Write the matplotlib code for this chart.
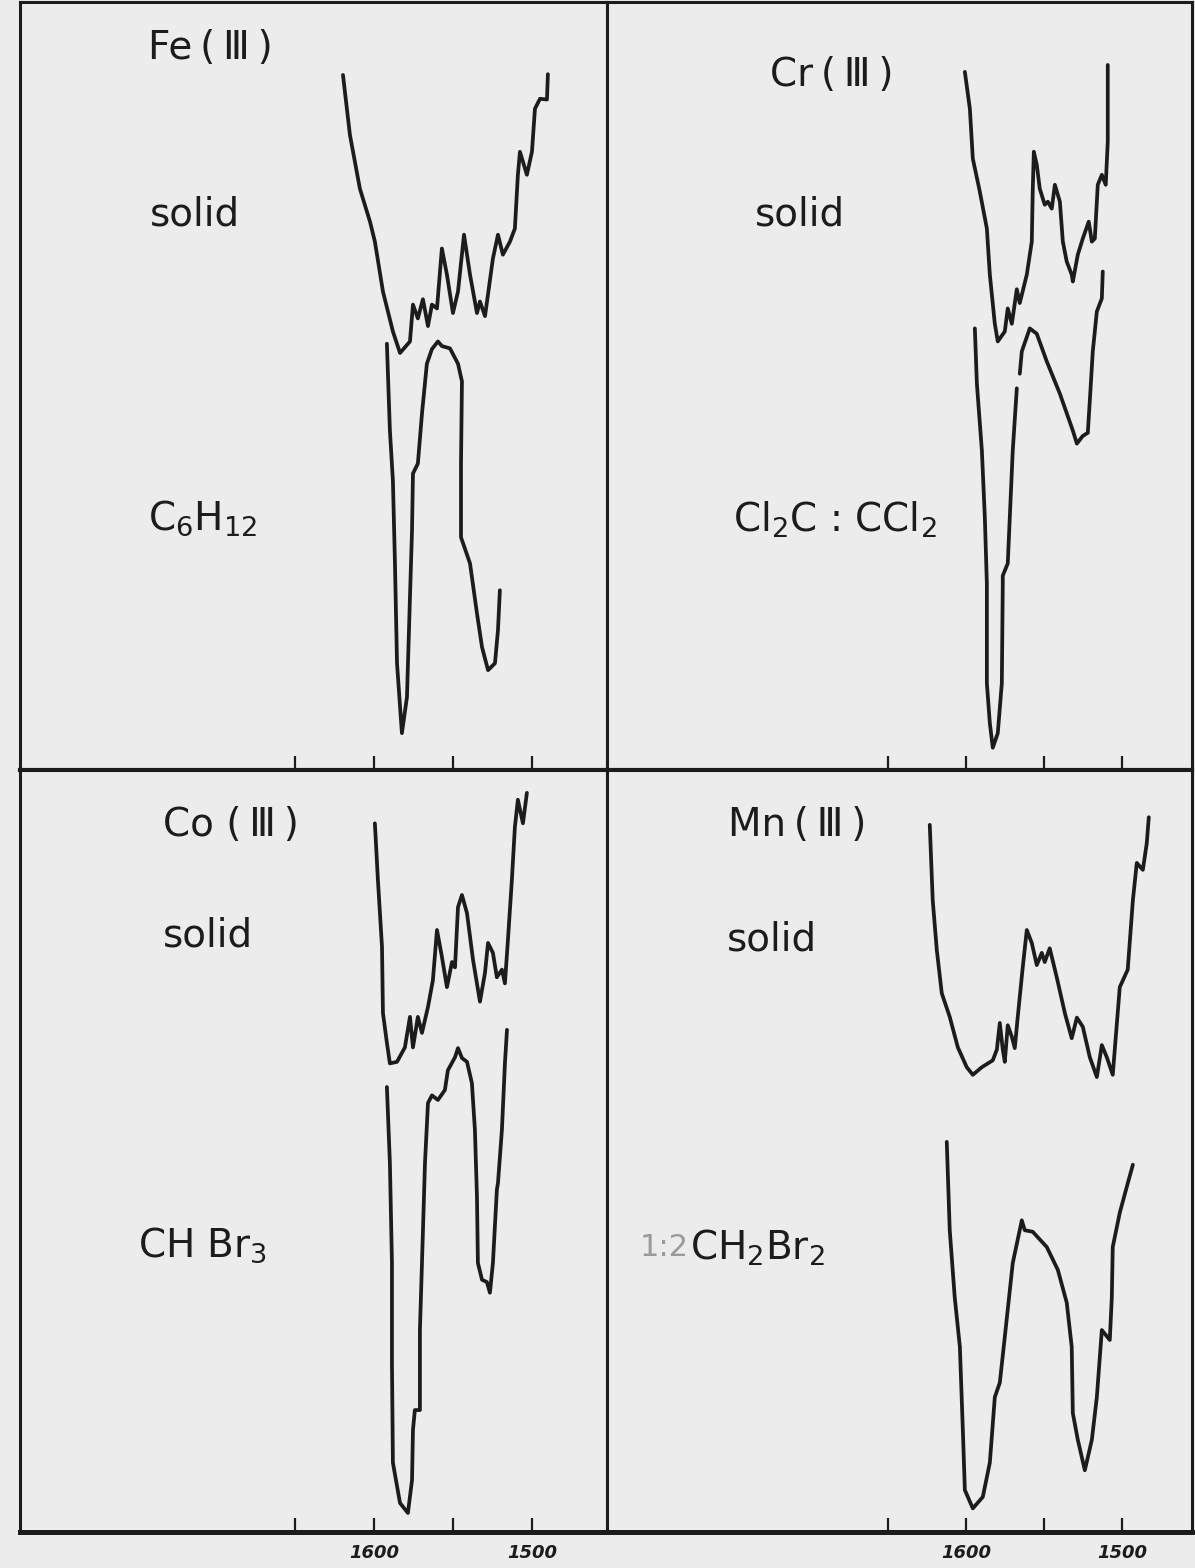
import numpy as np
import matplotlib
matplotlib.use('Agg')
import matplotlib.pyplot as plt

# IR spectra, wavenumber (cm-1) vs relative transmittance (panel %, arbitrary offset)

# Fe(III): solid and in C6H12
fe_solid_wn = [1619.6, 1615.2, 1608.9, 1602.5, 1599.4, 1594.3, 1588.0, 1583.5, 1577.2, 1575.3,
               1572.2, 1569.0, 1565.8, 1563.3, 1560.1, 1557.0, 1553.8, 1550.0, 1546.8, 1543.0,
               1539.2, 1534.8, 1532.9, 1529.7, 1524.7, 1521.5, 1518.4, 1513.9, 1510.8, 1508.9,
               1507.6, 1503.2, 1500.0, 1498.1, 1494.9, 1490.5, 1489.9]
fe_solid_t = [90.5, 82.7, 75.7, 71.4, 68.8, 62.3, 57.1, 54.3, 55.8, 60.6,
              58.8, 61.3, 57.8, 60.6, 60.1, 67.9, 64.5, 59.5, 62.3, 69.7,
              64.5, 59.5, 61.0, 59.1, 66.6, 69.7, 67.1, 68.8, 70.5, 77.5,
              80.5, 77.5, 80.5, 86.1, 87.4, 87.3, 90.6]
fe_soln_wn = [1591.8, 1589.9, 1588.0, 1586.7, 1585.4, 1582.3, 1579.1, 1577.2, 1575.9, 1575.3,
              1572.2, 1569.6, 1566.5, 1563.3, 1559.5, 1557.0, 1551.9, 1546.8, 1544.3, 1544.9,
              1544.9, 1539.2, 1534.8, 1531.6, 1527.8, 1523.4, 1521.5, 1520.3]
fe_soln_t = [55.5, 44.2, 37.7, 26.9, 13.9, 4.8, 9.5, 22.5, 31.2, 38.6,
             39.9, 46.4, 52.9, 54.8, 55.8, 55.2, 54.9, 52.9, 50.6, 39.9,
             30.3, 26.9, 20.4, 16.0, 13.0, 13.9, 18.2, 23.4]

# Cr(III): solid and in Cl2C:CCl2
cr_solid_wn = [1600.6, 1597.4, 1595.5, 1591.0, 1586.5, 1584.6, 1581.4, 1579.5, 1575.0, 1573.1,
               1570.5, 1567.3, 1565.4, 1560.9, 1557.7, 1557.1, 1556.4, 1554.5, 1552.6, 1549.4,
               1547.4, 1544.9, 1542.9, 1539.7, 1537.8, 1535.3, 1532.1, 1531.4, 1528.2, 1525.0,
               1521.2, 1519.2, 1517.3, 1515.4, 1512.8, 1510.3, 1509.0, 1509.0]
cr_solid_t = [90.9, 86.1, 79.6, 75.3, 70.5, 64.5, 58.1, 55.8, 57.1, 60.1,
              58.1, 62.6, 60.8, 64.5, 68.8, 75.3, 80.5, 78.8, 75.7, 73.6,
              74.0, 73.1, 76.2, 74.0, 68.8, 66.2, 64.5, 63.6, 67.1, 69.2,
              71.4, 68.8, 69.2, 76.2, 77.5, 76.2, 81.8, 91.8]
cr_soln_wn = [1594.2, 1592.9, 1589.7, 1587.8, 1586.5, 1586.5, 1584.6, 1582.7, 1579.5, 1576.9,
              1576.3, 1576.3, 1573.1, 1571.8, 1569.9, 1567.3, np.nan, 1565.4, 1564.1, 1559.0,
              1554.5, 1548.1, 1539.7, 1531.4, 1528.8, 1525.0, 1521.8, 1520.5, 1518.6, 1516.0,
              1512.8, 1512.2]
cr_soln_t = [57.5, 50.3, 41.6, 32.9, 24.3, 11.3, 6.1, 2.9, 4.8, 11.3,
             24.3, 25.3, 26.9, 32.9, 41.6, 49.7, np.nan, 51.6, 54.5, 57.5,
             56.8, 53.2, 49.0, 44.2, 42.5, 43.5, 43.9, 48.1, 54.5, 59.7,
             61.4, 64.9]

# Co(III): solid and in CHBr3
co_solid_wn = [1599.4, 1597.5, 1594.9, 1594.3, 1591.8, 1589.9, 1585.4, 1580.4, 1577.2, 1575.3,
               1572.2, 1569.6, 1565.8, 1562.7, 1560.1, 1557.0, 1553.8, 1550.6, 1548.7, 1546.8,
               1544.3, 1541.1, 1537.3, 1532.9, 1529.7, 1527.8, 1524.7, 1522.2, 1519.0, 1517.1,
               1515.2, 1512.7, 1510.8, 1508.9, 1505.7, 1503.2]
co_solid_t = [93.0, 85.6, 76.8, 68.1, 64.2, 61.5, 61.7, 63.6, 67.6, 63.6,
              67.6, 65.5, 68.9, 72.4, 79.0, 75.5, 71.5, 74.8, 74.1, 82.0,
              83.6, 81.2, 75.1, 69.6, 73.4, 77.3, 76.0, 72.8, 73.8, 72.0,
              77.7, 85.6, 92.5, 96.1, 93.0, 97.0]
co_soln_wn = [1591.8, 1589.9, 1588.6, 1588.6, 1588.0, 1583.5, 1578.5, 1575.9, 1575.3, 1574.1,
              1570.9, 1570.9, 1569.6, 1567.7, 1565.8, 1563.3, 1559.5, 1555.1, 1553.2, 1548.7,
              1546.8, 1544.3, 1541.1, 1538.0, 1536.1, 1534.8, 1534.2, 1531.6, 1528.5, 1526.6,
              1524.7, 1522.2, 1521.5, 1519.0, 1517.1, 1515.8]
co_soln_t = [58.4, 48.4, 35.3, 22.2, 9.1, 3.8, 2.5, 6.8, 13.4, 16.0,
             16.0, 26.5, 35.3, 48.4, 56.3, 57.3, 56.7, 58.0, 60.6, 62.3,
             63.5, 62.2, 61.7, 58.9, 52.8, 44.0, 35.3, 33.1, 32.8, 31.4,
             35.3, 44.9, 45.8, 52.8, 61.5, 65.9]

# Mn(III): solid and in CH2Br2
mn_solid_wn = [1623.1, 1621.2, 1618.6, 1615.4, 1610.3, 1605.1, 1599.4, 1595.5, 1589.7, 1582.7,
               1580.1, 1578.2, 1576.3, 1575.0, 1573.1, 1570.5, 1568.6, 1566.7, 1563.5, 1560.9,
               1557.7, 1554.5, 1551.3, 1549.4, 1546.2, 1541.7, 1536.5, 1532.1, 1528.8, 1525.0,
               1520.5, 1516.0, 1512.8, 1509.6, 1505.8, 1501.3, 1496.2, 1492.9, 1490.4, 1486.5,
               1484.0, 1482.7]
mn_solid_t = [92.8, 82.9, 76.4, 70.7, 67.6, 63.6, 61.0, 60.0, 61.0, 61.9,
              63.3, 66.8, 63.3, 61.7, 66.5, 65.0, 63.5, 67.6, 74.1, 79.0,
              77.3, 74.4, 76.0, 74.8, 76.6, 72.8, 68.1, 64.8, 67.5, 66.3,
              62.3, 59.7, 63.9, 62.3, 60.0, 71.5, 73.8, 82.9, 87.8, 86.9,
              90.4, 93.8]
mn_soln_wn = [1612.2, 1610.3, 1607.1, 1603.8, 1601.9, 1600.6, 1595.5, 1589.1, 1584.6, 1581.4,
              1578.2, 1575.0, 1569.9, 1564.1, 1562.2, 1557.1, 1548.1, 1541.0, 1535.3, 1532.1,
              1531.4, 1528.2, 1523.7, 1519.2, 1516.0, 1512.8, 1507.7, 1506.4, 1505.8, 1501.3,
              1496.8, 1492.9]
mn_soln_t = [51.2, 39.6, 30.8, 24.3, 13.4, 5.5, 3.1, 4.6, 9.1, 17.7,
             19.6, 25.6, 35.3, 40.9, 39.6, 39.4, 37.4, 34.4, 30.1, 24.3,
             15.6, 12.1, 8.1, 12.1, 17.7, 26.5, 25.2, 30.8, 37.4, 41.9,
             45.3, 48.2]

tick_wn = [1650, 1600, 1550, 1500]
tick_lbl = ['', '1600', '', '1500']

paper = '#ececec'
ink = '#1c1c1c'
ts = '\u2009'  # thin space, the lettering is spread out

fig = plt.figure(figsize=(11.95, 15.68), dpi=100, facecolor=paper)

W, H = 1195.0, 1568.0
boxes = {
    'tl': [20 / W, 1 - 770 / H, 587 / W, 768 / H],
    'tr': [607 / W, 1 - 770 / H, 585 / W, 768 / H],
    'bl': [20 / W, 1 - 1532 / H, 587 / W, 762 / H],
    'br': [607 / W, 1 - 1532 / H, 585 / W, 762 / H],
}
xlims = {'tl': (1824, 1452.5), 'bl': (1824, 1452.5),
         'tr': (1830, 1455), 'br': (1830, 1455)}

panels = {
    'tl': [(fe_solid_wn, fe_solid_t), (fe_soln_wn, fe_soln_t)],
    'tr': [(cr_solid_wn, cr_solid_t), (cr_soln_wn, cr_soln_t)],
    'bl': [(co_solid_wn, co_solid_t), (co_soln_wn, co_soln_t)],
    'br': [(mn_solid_wn, mn_solid_t), (mn_soln_wn, mn_soln_t)],
}

labels = {
    'tl': [('Fe' + ts + '(' + ts + 'Ⅲ' + ts + ')', 0.218, 0.940), ('solid', 0.221, 0.723),
           (r'C$_6$H$_{12}$', 0.218, 0.328)],
    'tr': [('Cr' + ts + '(' + ts + 'Ⅲ' + ts + ')', 0.279, 0.905), ('solid', 0.253, 0.723),
           (r'Cl$_2$C : CCl$_2$', 0.215, 0.326)],
    'bl': [('Co ' + '(' + ts + 'Ⅲ' + ts + ')', 0.244, 0.928), ('solid', 0.244, 0.783),
           (r'CH Br$_3$', 0.201, 0.377)],
    'br': [('Mn' + ts + '(' + ts + 'Ⅲ' + ts + ')', 0.207, 0.928), ('solid', 0.205, 0.777),
           (r'CH$_2$Br$_2$', 0.142, 0.373)],
}

for key, box in boxes.items():
    ax = fig.add_axes(box)
    ax.set_facecolor(paper)
    for wn, t in panels[key]:
        ax.plot(wn, t, color=ink, lw=2.7, solid_capstyle='round', solid_joinstyle='round')
    ax.set_xlim(*xlims[key])
    ax.set_ylim(0, 100)
    ax.set_yticks([])
    ax.set_xticks(tick_wn)
    bottom_row = key in ('bl', 'br')
    ax.set_xticklabels(tick_lbl if bottom_row else [''] * 4)
    ax.tick_params(axis='x', direction='in', length=10, width=1.6, color=ink, pad=9)
    for lbl in ax.get_xticklabels():
        lbl.set_fontsize(13)
        lbl.set_fontweight('bold')
        lbl.set_fontstyle('italic')
        lbl.set_color(ink)
    for side, sp in ax.spines.items():
        sp.set_color(ink)
        sp.set_linewidth(2.2)
    ax.spines['bottom'].set_linewidth(3.6 if bottom_row else 3.0)
    for txt, x, y in labels[key]:
        ax.text(x, y, txt, transform=ax.transAxes, fontsize=28, color=ink,
                ha='left', va='center')
    if key == 'br':
        ax.text(0.056, 0.373, '1:2', transform=ax.transAxes, fontsize=22,
                color='#9a9a9a', ha='left', va='center')

fig.savefig('out.png', dpi=100, facecolor=paper)
